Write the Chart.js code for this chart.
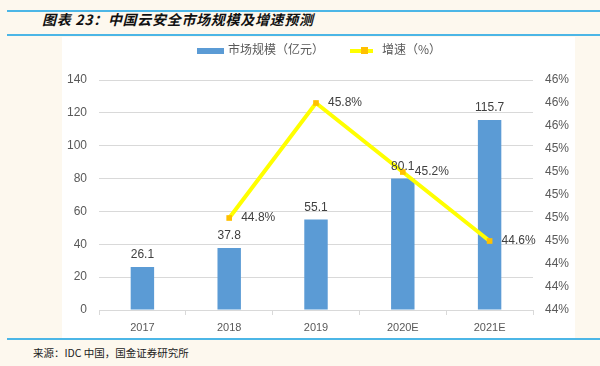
<!DOCTYPE html>
<html>
<head>
<meta charset="utf-8">
<script src="https://cdn.jsdelivr.net/npm/chart.js@4.4.0/dist/chart.umd.min.js"></script>
<style>
  html, body { margin: 0; padding: 0; }
  body { width: 600px; height: 366px; background: #fdf8ee; position: relative; overflow: hidden;
         font-family: "Noto Sans CJK SC", "Liberation Sans", sans-serif; }
  .line { position: absolute; left: 7px; right: 0; height: 2px; background: #4cb6e6; }
  #titulo { position: absolute; left: 42px; top: 9px; font-size: 14px; font-weight: bold; font-style: italic;
            color: #111; letter-spacing: 0.7px; }
  #panel { position: absolute; left: 62px; top: 37px; width: 513px; height: 301px; background: #fff; }
  #leyenda { position: absolute; left: 0; top: 4px; width: 100%; font-size: 12px; color: #595959; }
  .item { position: absolute; top: 0; line-height: 16px; }
  .caja { display: inline-block; vertical-align: middle; }
  #fuente { position: absolute; left: 33px; top: 345px; font-size: 10.5px; color: #222; }
</style>
</head>
<body>
<div class="line" style="top:10px"></div>
<div id="titulo">图表 23：中国云安全市场规模及增速预测</div>
<div class="line" style="top:34px"></div>
<div id="panel">
  <div id="leyenda">
    <span class="item" style="left:135px"><span class="caja" style="width:27px;height:6px;background:#5b9bd5;margin-right:4px"></span>市场规模（亿元）</span>
    <span class="item" style="left:288px"><span class="caja" style="width:23px;height:4px;background:#ffff00;position:relative;margin-right:9px"><span style="position:absolute;left:11px;top:-2px;width:7px;height:7px;background:#ffc000"></span></span>增速（%）</span>
  </div>
  <canvas id="canvas-mercado" width="513" height="301"></canvas>
</div>
<div class="line" style="top:338px"></div>
<div id="fuente">来源：IDC 中国，国金证券研究所</div>
<script>
// Datos del grafico
var labelsAnio = ["2017", "2018", "2019", "2020E", "2021E"];
var dataMercado = [26.1, 37.8, 55.1, 80.1, 115.7];
var dataCrec = [null, 44.8, 45.8, 45.2, 44.6];

var colorTexto = "#595959";

// etiquetas de valores
var pluginEtiquetas = {
    id: "etiquetas",
    afterDatasetsDraw: function (chart) {
        var ctx = chart.ctx;
        ctx.save();
        ctx.font = "12px 'Liberation Sans', sans-serif";
        ctx.fillStyle = "#404040";
        // barras (dataset 1)
        chart.getDatasetMeta(1).data.forEach(function (bar, i) {
            ctx.textAlign = "center";
            ctx.textBaseline = "bottom";
            ctx.fillText(dataMercado[i].toFixed(1), bar.x, bar.y - 6);
        });
        // linea (dataset 0)
        chart.getDatasetMeta(0).data.forEach(function (pt, i) {
            if (dataCrec[i] == null) return;
            ctx.textAlign = "left";
            ctx.textBaseline = "middle";
            ctx.fillText(dataCrec[i].toFixed(1) + "%", pt.x + 12, pt.y);
        });
        ctx.restore();
    },
};

var contexto = document.getElementById("canvas-mercado").getContext("2d");
var chartMercado = new Chart(contexto, {
    type: "bar",
    data: {
        labels: labelsAnio,
        datasets: [
            {
                type: "line",
                label: "增速（%）",
                data: dataCrec,
                yAxisID: "y1",
                borderColor: "#ffff00",
                borderWidth: 4,
                pointStyle: "rect",
                pointRadius: 4,
                pointBackgroundColor: "#ffc000",
                pointBorderColor: "#ffc000",
                pointBorderWidth: 0,
                spanGaps: false,
                order: 0,
            },
            {
                label: "市场规模（亿元）",
                data: dataMercado,
                yAxisID: "y",
                backgroundColor: "#5b9bd5",
                barPercentage: 0.27,
                categoryPercentage: 1,
                order: 1,
            },
        ],
    },
    options: {
        responsive: false,
        animation: false,
        layout: { padding: { top: 43, bottom: 0, left: 0, right: 0 } },
        plugins: {
            legend: { display: false },
            tooltip: { enabled: false },
        },
        scales: {
            x: {
                grid: { drawOnChartArea: false, color: "#d9d9d9", tickLength: 5 },
                border: { color: "#d9d9d9" },
                ticks: { color: colorTexto, font: { size: 11, family: "'Liberation Sans', sans-serif" }, padding: 6 },
                afterFit: function (scale) { scale.height = 28; },
            },
            y: {
                position: "left",
                min: 0,
                max: 140,
                ticks: { stepSize: 20, color: colorTexto, font: { size: 12, family: "'Liberation Sans', sans-serif" }, padding: 12 },
                grid: { color: "#d9d9d9", drawTicks: false },
                border: { display: false },
                afterFit: function (scale) { scale.width = 37; },
            },
            y1: {
                position: "right",
                min: 44,
                max: 46,
                ticks: {
                    stepSize: 0.2,
                    color: colorTexto,
                    font: { size: 12, family: "'Liberation Sans', sans-serif" },
                    padding: 12,
                    callback: function (v) { return Math.round(v) + "%"; },
                },
                grid: { drawOnChartArea: false, drawTicks: false },
                border: { display: false },
                afterFit: function (scale) { scale.width = 42; },
            },
        },
    },
    plugins: [pluginEtiquetas],
});
</script>
</body>
</html>
